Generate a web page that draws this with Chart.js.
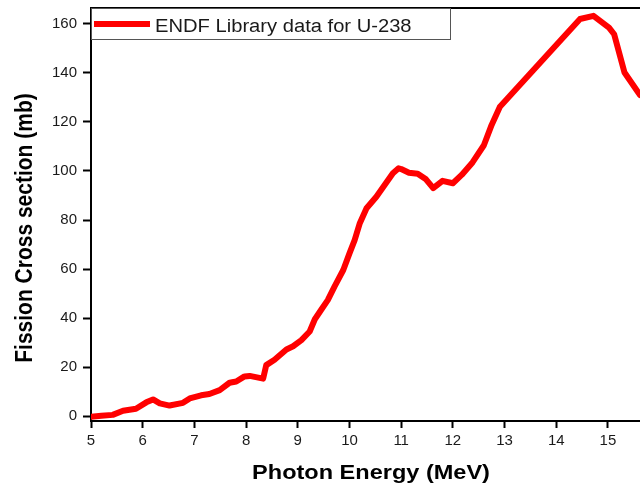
<!DOCTYPE html>
<html>
<head>
<meta charset="utf-8">
<script src="https://cdn.jsdelivr.net/npm/chart.js@4"></script>
<style>
  html, body { margin: 0; padding: 0; background: #fff; }
  #wrap { width: 640px; height: 485px; }
</style>
</head>
<body>
<div id="wrap"><canvas id="c" width="640" height="485"></canvas></div>
<script>
// ENDF U-238 photofission cross section
var energy = [5.0, 5.2, 5.42, 5.62, 5.87, 6.07, 6.2, 6.33, 6.52, 6.78, 6.91, 7.13, 7.29, 7.49, 7.68, 7.81,
  7.97, 8.07, 8.33, 8.39, 8.55, 8.78, 8.91, 9.07, 9.23, 9.33, 9.45, 9.58, 9.71, 9.88, 10.0, 10.1, 10.2,
  10.33, 10.52, 10.68, 10.84, 10.95, 11.0, 11.15, 11.32, 11.48, 11.62, 11.8, 12.0, 12.17, 12.38, 12.6,
  12.75, 12.91, 14.46, 14.72, 15.02, 15.12, 15.32, 15.62, 15.8];
var sigma = [-0.3, 0.1, 0.5, 2.2, 3.0, 5.6, 6.8, 5.2, 4.3, 5.4, 7.2, 8.5, 9.0, 10.6, 13.6, 14.1,
  16.2, 16.4, 15.3, 20.8, 23.0, 27.2, 28.5, 31.0, 34.5, 39.5, 43.3, 47.3, 52.8, 59.6, 66.4, 71.8, 78.7,
  84.8, 89.5, 94.3, 99.1, 101.1, 100.8, 99.3, 98.9, 96.6, 93.0, 96.0, 95.0, 98.4, 103.5, 110.5,
  118.8, 126.2, 162.0, 163.3, 158.5, 155.8, 140.2, 131.0, 127.0];
var xTicks = [5, 6, 7, 8, 9, 10, 11, 12, 13, 14, 15];
var yTicks = [0, 20, 40, 60, 80, 100, 120, 140, 160];
var seriesLabel = "ENDF Library data for U-238";

var red = "#ff0000";
var ink = "#1a1a1a";
var stretch = 1.12; // the source image is slightly wider than tall

// frame top line, legend box and the two bold axis titles
var extras = {
  id: "extras",
  afterDraw: function (chart) {
    var ctx = chart.ctx, a = chart.chartArea;
    ctx.save();
    ctx.strokeStyle = "#000";
    ctx.lineWidth = 2;
    ctx.beginPath();
    ctx.moveTo(a.left, a.top);
    ctx.lineTo(a.right, a.top);
    ctx.stroke();

    ctx.strokeStyle = "#555";
    ctx.lineWidth = 1;
    ctx.strokeRect(a.left + 0.5, a.top + 0.5, 359, 31);
    ctx.strokeStyle = red;
    ctx.lineWidth = 6;
    ctx.beginPath();
    ctx.moveTo(a.left + 3, a.top + 16);
    ctx.lineTo(a.left + 59, a.top + 16);
    ctx.stroke();

    ctx.fillStyle = ink;
    ctx.font = "18px Arial, 'Liberation Sans'";
    ctx.textBaseline = "alphabetic";
    ctx.textAlign = "left";
    ctx.save();
    ctx.translate(a.left + 64, 31.5);
    ctx.scale(stretch, 1);
    ctx.fillText(seriesLabel, 0, 0);
    ctx.restore();

    ctx.fillStyle = "#000";
    ctx.font = "bold 21px Arial, 'Liberation Sans'";
    ctx.textAlign = "center";
    ctx.save();
    ctx.translate(371, 479);
    ctx.scale(stretch, 1);
    ctx.fillText("Photon Energy (MeV)", 0, 0);
    ctx.restore();

    ctx.translate(32, 228);
    ctx.scale(stretch, 1);
    ctx.rotate(-Math.PI / 2);
    ctx.fillText("Fission Cross section (mb)", 0, 0);
    ctx.restore();
  },
};

new Chart(document.getElementById("c"), {
  type: "line",
  data: {
    datasets: [
      {
        label: seriesLabel,
        data: energy.map(function (e, i) { return { x: e, y: sigma[i] }; }),
        borderColor: red,
        borderWidth: 6,
        pointRadius: 0,
        tension: 0,
        borderJoinStyle: "round",
        borderCapStyle: "round",
      },
    ],
  },
  options: {
    responsive: false,
    animation: false,
    layout: { padding: { top: 8, right: 0, left: 0, bottom: 0 } },
    plugins: { legend: { display: false }, tooltip: { enabled: false } },
    scales: {
      x: {
        type: "linear",
        min: 5,
        max: 15.62,
        afterBuildTicks: function (s) { s.ticks = xTicks.map(function (v) { return { value: v }; }); },
        afterFit: function (s) { s.height = 64; s.paddingLeft = 0; s.paddingRight = 0; },
        border: { display: true, color: "#000", width: 2 },
        grid: { drawOnChartArea: false, drawTicks: true, tickLength: 7, tickColor: "#000", tickWidth: 2 },
        ticks: { color: ink, font: { family: "Arial, 'Liberation Sans'", size: 15 }, padding: 4, maxRotation: 0, autoSkip: false },
      },
      y: {
        min: -2,
        max: 166.5,
        afterBuildTicks: function (s) { s.ticks = yTicks.map(function (v) { return { value: v }; }); },
        afterFit: function (s) { s.width = 91; s.paddingTop = 0; s.paddingBottom = 0; },
        border: { display: true, color: "#000", width: 2 },
        grid: { drawOnChartArea: false, drawTicks: true, tickLength: 8, tickColor: "#000", tickWidth: 2 },
        ticks: { color: ink, font: { family: "Arial, 'Liberation Sans'", size: 15 }, padding: 6, autoSkip: false },
      },
    },
  },
  plugins: [extras],
});
</script>
</body>
</html>
